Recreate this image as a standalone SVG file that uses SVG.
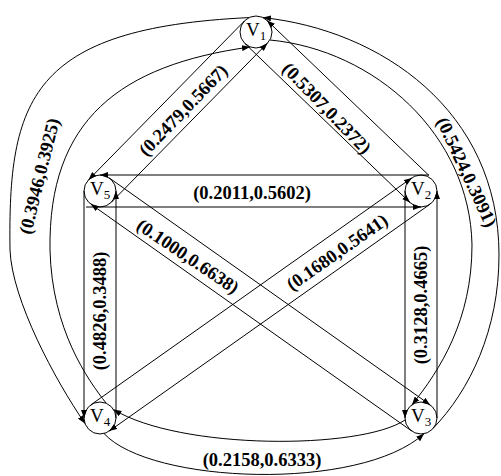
<svg xmlns="http://www.w3.org/2000/svg" width="501" height="476" viewBox="0 0 501 476">
<defs>
<marker id="ah" viewBox="0 0 8 6" markerWidth="8" markerHeight="6" refX="8" refY="3" orient="auto" markerUnits="userSpaceOnUse"><path d="M0,0 L8,3 L0,6 z" fill="#000"/></marker>
</defs>
<style>
.e{fill:none;stroke:#000;stroke-width:1;marker-end:url(#ah)}
.n{fill:none;stroke:#000;stroke-width:1}
.nl{font-family:"Liberation Serif","Times New Roman",serif;font-size:19px;fill:#000}
.s{font-size:13px}
.lb{font-family:"Liberation Serif","Times New Roman",serif;font-size:18.5px;font-weight:bold;fill:#000;text-anchor:middle}
</style>
<rect width="501" height="476" fill="#fff"/>
<g id="connectors">
<path class="e" d="M244.6,20.8 L88.6,179.8"/>
<path class="e" d="M111.4,202.2 L267.4,43.2"/>
<path class="e" d="M244.9,43.5 L409.9,202.5"/>
<path class="e" d="M429,175.5 L267.1,20.5"/>
<path class="e" d="M429,175 L100,175"/>
<path class="e" d="M86,207 L421,207"/>
<path class="e" d="M84,191 L84,418"/>
<path class="e" d="M116,418 L116,191"/>
<path class="e" d="M405,191 L405,418"/>
<path class="e" d="M437,418 L437,191"/>
<path class="e" d="M109.2,177.9 L430.2,404.9"/>
<path class="e" d="M411.8,431.1 L90.8,204.1"/>
<path class="e" d="M90.8,404.9 L411.8,177.9"/>
<path class="e" d="M430.2,204.1 L109.2,431.1"/>
<path class="e" d="M249,17.6 C30,28 8,100 10,250 C12,300 55,380 85,423.5"/>
<path class="e" d="M106,403 C88,380 52,330 50,250 C48,120 120,65 250,47"/>
<path class="e" d="M433,428.5 C470,390 499,330 499,255 C499,110 380,30 263,17.6"/>
<path class="e" d="M270,40 C375,50 470,135 472,245 C472,320 440,370 412,404.7"/>
<path class="e" d="M405,420 C360,450 180,450 113.5,409.5"/>
<path class="e" d="M104,433.5 C150,484 360,492 424,433.7"/>
</g>
<g id="edge-labels">
<text class="lb" transform="translate(183,110) rotate(-46)" dy="0.35em">(0.2479,0.5667)</text>
<text class="lb" transform="translate(327,108) rotate(46)" dy="0.35em">(0.5307,0.2372)</text>
<text class="lb" x="252" y="199">(0.2011,0.5602)</text>
<text class="lb" transform="translate(100,311) rotate(-90)" dy="0.35em">(0.4826,0.3488)</text>
<text class="lb" transform="translate(421,305) rotate(-90)" dy="0.35em">(0.3128,0.4665)</text>
<text class="lb" transform="translate(188,256) rotate(34)" dy="0.35em">(0.1000,0.6638)</text>
<text class="lb" transform="translate(337,252) rotate(-35)" dy="0.35em">(0.1680,0.5641)</text>
<text class="lb" transform="translate(39,176) rotate(-76)" dy="0.35em">(0.3946,0.3925)</text>
<text class="lb" transform="translate(467,172) rotate(65)" dy="0.35em">(0.5424,0.3091)</text>
<text class="lb" x="262" y="466">(0.2158,0.6333)</text>
</g>
<g id="V1"><circle class="n" cx="256" cy="32" r="16"/><text class="nl" x="246" y="36">V<tspan class="s" dy="4">1</tspan></text></g>
<g id="V2"><circle class="n" cx="421" cy="191" r="16"/><text class="nl" x="411" y="195">V<tspan class="s" dy="4">2</tspan></text></g>
<g id="V3"><circle class="n" cx="421" cy="418" r="16"/><text class="nl" x="411" y="422">V<tspan class="s" dy="4">3</tspan></text></g>
<g id="V4"><circle class="n" cx="100" cy="418" r="16"/><text class="nl" x="90" y="422">V<tspan class="s" dy="4">4</tspan></text></g>
<g id="V5"><circle class="n" cx="100" cy="191" r="16"/><text class="nl" x="90" y="195">V<tspan class="s" dy="4">5</tspan></text></g>
</svg>
